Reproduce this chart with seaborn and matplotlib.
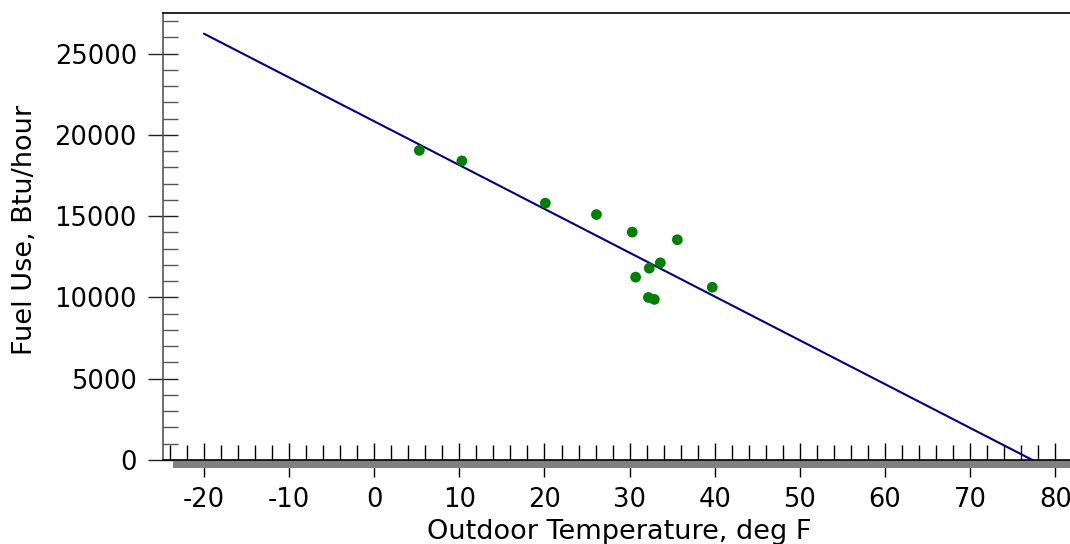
import matplotlib
matplotlib.use("Agg")
import matplotlib.pyplot as plt
import matplotlib.ticker as mticker
from matplotlib.patches import Rectangle
import pandas as pd
import seaborn as sns

# observed points: outdoor temperature (deg F) vs fuel use (Btu/hour)
temp_f = [5.3, 10.3, 20.1, 26.1, 30.3, 35.6, 33.6, 32.3, 30.7, 39.7, 32.2, 32.9]
fuel_btu = [19050, 18400, 15800, 15100, 14020, 13550, 12130, 11800, 11250, 10630, 10000, 9880]

# fitted line end points
fit_temp = [-20, 77.3]
fit_fuel = [26230, 0]

pts = pd.DataFrame({"temp": temp_f, "fuel": fuel_btu})
fit = pd.DataFrame({"temp": fit_temp, "fuel": fit_fuel})

sns.set_style("ticks")
plt.rcParams["font.family"] = ["DejaVu Sans"]
plt.rcParams["axes.unicode_minus"] = False
plt.rcParams["text.color"] = "black"
plt.rcParams["axes.labelcolor"] = "black"

fig = plt.figure(figsize=(10.7, 5.44), dpi=100)
ax = fig.add_axes([163/1070, 84/544, 935/1070, 447/544])

sns.lineplot(data=fit, x="temp", y="fuel", color="#000080", linewidth=1.5, ax=ax)
sns.scatterplot(data=pts, x="temp", y="fuel", color="#008000", s=60,
                edgecolor="none", ax=ax, zorder=3)

ax.set_xlim(-24.8, 85)
ax.set_ylim(0, 27500)

ax.xaxis.set_major_locator(mticker.MultipleLocator(10))
ax.xaxis.set_minor_locator(mticker.MultipleLocator(2))
ax.yaxis.set_major_locator(mticker.MultipleLocator(5000))
ax.yaxis.set_minor_locator(mticker.MultipleLocator(1000))

ax.tick_params(axis="x", which="both", bottom=True, top=False)
ax.tick_params(axis="y", which="both", left=True, right=False)
ax.tick_params(axis="x", which="major", direction="inout", length=25, width=1,
               color="black", labelsize=18.5, pad=7)
ax.tick_params(axis="x", which="minor", direction="in", length=10.8, width=1, color="black")
ax.tick_params(axis="y", which="major", direction="inout", length=21.6, width=1,
               color="#222222", labelsize=18.5, pad=8)
ax.tick_params(axis="y", which="minor", direction="in", length=10.8, width=1, color="#555555")
ax.tick_params(labelcolor="black")

ax.spines["right"].set_visible(False)
ax.spines["top"].set_color("black")
ax.spines["top"].set_linewidth(1.2)
ax.spines["left"].set_color("#555555")
ax.spines["left"].set_linewidth(1.2)
ax.spines["bottom"].set_color("black")
ax.spines["bottom"].set_linewidth(1.2)

# gray shadow bar under the x axis
ax.add_patch(Rectangle((10/935, -8/447), 1.0, 8/447, transform=ax.transAxes,
                       facecolor="#808080", edgecolor="none", clip_on=False, zorder=1))

ax.set_xlabel("Outdoor Temperature, deg F", fontsize=19.5)
ax.set_ylabel("Fuel Use, Btu/hour", fontsize=19.5)
ax.xaxis.set_label_coords(456/935, -59/447)
ax.yaxis.set_label_coords(-125/935, 230/447)

fig.savefig("out.png", dpi=100)
